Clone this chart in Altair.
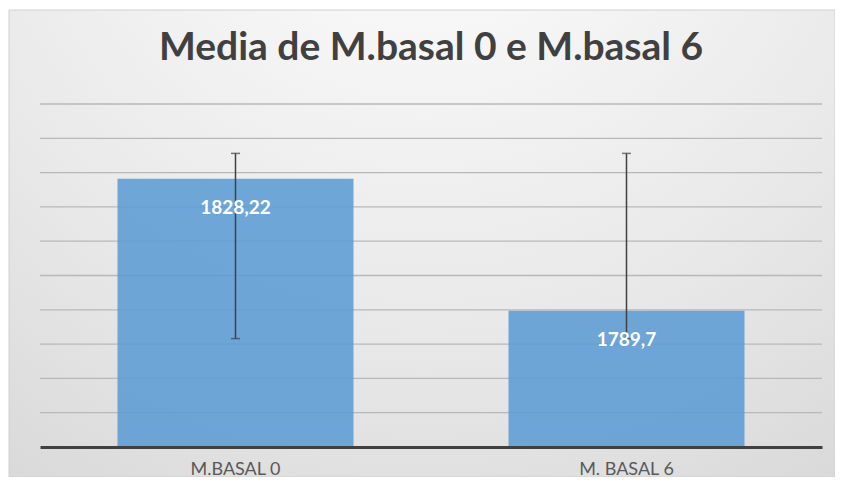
import altair as alt
import pandas as pd

categories = ["M.BASAL 0", "M. BASAL 6"]
means = [1828.22, 1789.7]
labels = ["1828,22", "1789,7"]
err_low = [1781.6, 1781.6]
err_high = [1835.6, 1835.6]
grid_values = [1760, 1770, 1780, 1790, 1800, 1810, 1820, 1830, 1840, 1850]

df = pd.DataFrame({
    "cat": categories,
    "mean": means,
    "label": labels,
    "lo": err_low,
    "hi": err_high,
})
grid_df = pd.DataFrame({"g": grid_values})

FONT = "Lato"

x_axis = alt.Axis(
    labelAngle=0,
    labelColor="#595959",
    labelFontSize=18,
    labelFont=FONT,
    labelPadding=13,
    ticks=False,
    tickSize=0,
    domainColor="#404040",
    domainWidth=3,
    grid=False,
    zindex=1,
)
x_enc = alt.X(
    "cat:N",
    sort=categories,
    title=None,
    scale=alt.Scale(paddingInner=0, paddingOuter=0),
    axis=x_axis,
)
y_scale = alt.Scale(domain=[1750, 1850], nice=False, zero=False)

background = alt.Chart(pd.DataFrame({"v": [0]})).mark_rect(
    fill={
        "gradient": "radial",
        "x1": 0.5, "y1": 0.0, "r1": 0.0,
        "x2": 0.5, "y2": 0.0, "r2": 1.0,
        "stops": [
            {"offset": 0.0, "color": "#ffffff"},
            {"offset": 0.6, "color": "#e9e9e9"},
            {"offset": 1.0, "color": "#d6d6d6"},
        ],
    },
    stroke="#d0d0d0",
    strokeWidth=1,
).encode(
    x=alt.value(-31), x2=alt.value(795),
    y=alt.value(-94), y2=alt.value(373),
)

grid = alt.Chart(grid_df).mark_rule(color="#b8b8b8", strokeWidth=1.3).encode(
    y=alt.Y("g:Q", scale=y_scale, axis=None, title=None),
)

base = alt.Chart(df)
bars = base.mark_bar(size=236, color="#5B9BD5", opacity=0.87, clip=True).encode(
    x=x_enc,
    y=alt.Y("mean:Q", scale=y_scale, title=None, axis=None),
)

rules = base.mark_rule(color="#404040", strokeWidth=1.5).encode(
    x=x_enc,
    y=alt.Y("lo:Q", scale=y_scale, axis=None, title=None),
    y2="hi:Q",
)
cap_lo = base.mark_tick(color="#404040", thickness=1.5, size=9, orient="horizontal").encode(
    x=x_enc, y=alt.Y("lo:Q", scale=y_scale, axis=None, title=None)
)
cap_hi = base.mark_tick(color="#404040", thickness=1.5, size=9, orient="horizontal").encode(
    x=x_enc, y=alt.Y("hi:Q", scale=y_scale, axis=None, title=None)
)

text = base.mark_text(
    color="white", font=FONT, fontSize=19, fontWeight="bold", baseline="middle", dy=29
).encode(
    x=x_enc,
    y=alt.Y("mean:Q", scale=y_scale, axis=None, title=None),
    text="label:N",
)

chart = alt.layer(background, grid, bars, rules, cap_lo, cap_hi, text).properties(
    width=782,
    height=343,
    autosize=alt.AutoSizeParams(type="none"),
    padding={"left": 32, "top": 96, "right": 13, "bottom": 30},
    title=alt.TitleParams(
        "Media de M.basal 0 e M.basal 6",
        font=FONT,
        fontSize=39,
        fontWeight="bold",
        color="#404040",
        anchor="middle",
        offset=38,
        dy=96,
    ),
).configure_view(stroke=None).configure(background="white")

chart.save("out.html", embed_options={"renderer": "svg", "actions": False})
